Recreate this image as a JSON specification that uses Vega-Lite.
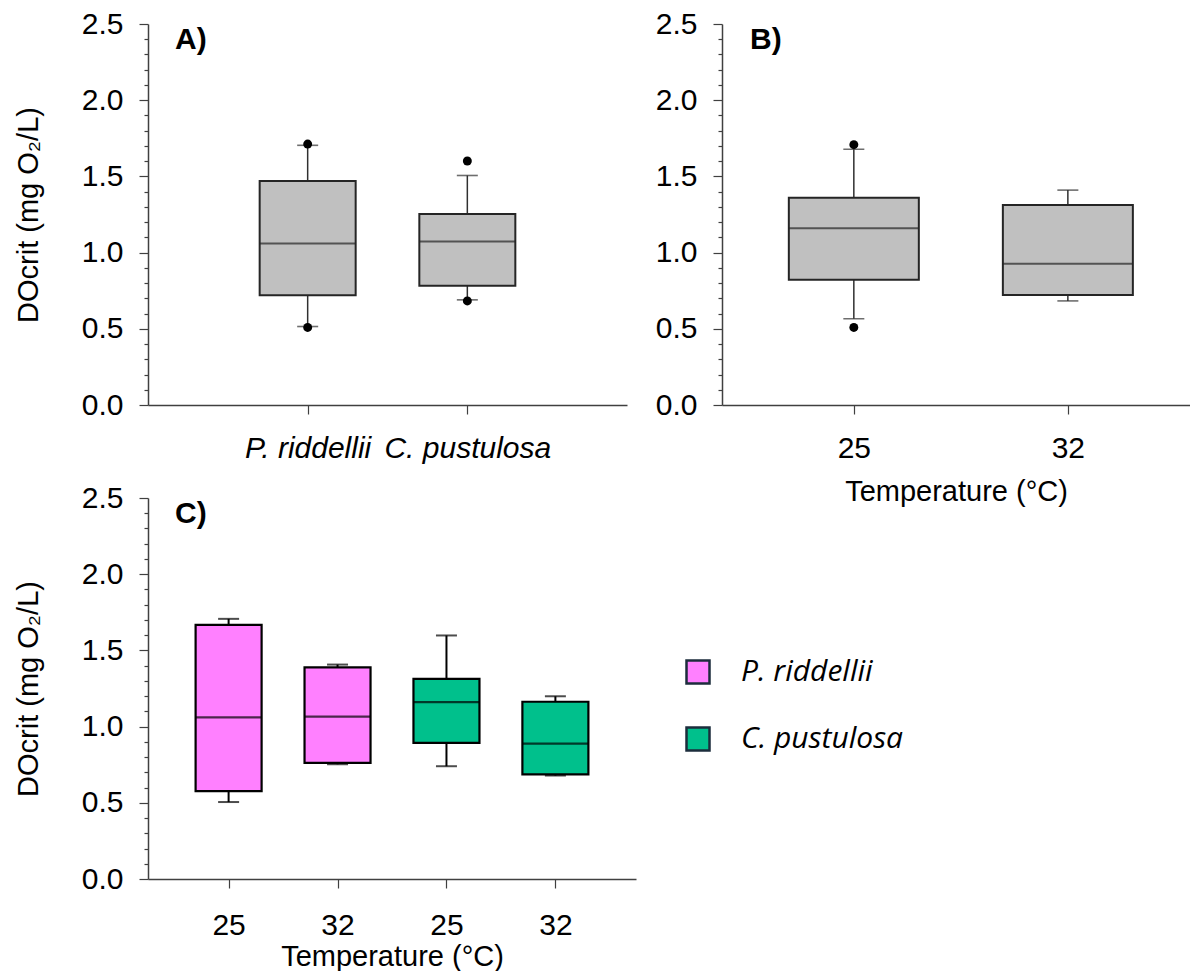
{
  "$schema": "https://vega.github.io/schema/vega-lite/v6.json",
  "background": "white",
  "padding": {"left": 14, "top": 9, "right": 0, "bottom": 0},
  "bounds": "flush",
  "columns": 2,
  "spacing": {"row": 93, "column": 86},
  "config": {
    "view": {"stroke": null},
    "axis": {
      "labelFont": "Liberation Sans", "titleFont": "Liberation Sans",
      "labelFontSize": 30, "titleFontSize": 29, "labelColor": "black", "titleColor": "black",
      "titleFontWeight": "normal", "domainColor": "#404040", "tickColor": "#404040",
      "domainWidth": 1.5, "tickWidth": 1.2, "grid": false
    },
    "title": {"font": "Liberation Sans", "fontSize": 30, "fontWeight": "bold", "color": "black", "anchor": "start", "frame": "group", "baseline": "alphabetic"}
  },
  "datasets": {
    "boxes": [
      {"panel": "A", "group": "P. riddellii", "species": "P. riddellii", "temp": null, "lo": 0.515, "q1": 0.72, "med": 1.06, "q3": 1.47, "hi": 1.704},
      {"panel": "A", "group": "C. pustulosa", "species": "C. pustulosa", "temp": null, "lo": 0.69, "q1": 0.783, "med": 1.073, "q3": 1.253, "hi": 1.506},
      {"panel": "B", "group": "25", "species": "all", "temp": 25, "lo": 0.566, "q1": 0.822, "med": 1.16, "q3": 1.36, "hi": 1.678},
      {"panel": "B", "group": "32", "species": "all", "temp": 32, "lo": 0.683, "q1": 0.722, "med": 0.927, "q3": 1.312, "hi": 1.41},
      {"panel": "C", "group": "P. riddellii|25", "species": "P. riddellii", "temp": 25, "lo": 0.505, "q1": 0.577, "med": 1.061, "q3": 1.668, "hi": 1.707},
      {"panel": "C", "group": "P. riddellii|32", "species": "P. riddellii", "temp": 32, "lo": 0.753, "q1": 0.762, "med": 1.065, "q3": 1.389, "hi": 1.407},
      {"panel": "C", "group": "C. pustulosa|25", "species": "C. pustulosa", "temp": 25, "lo": 0.74, "q1": 0.893, "med": 1.161, "q3": 1.313, "hi": 1.598},
      {"panel": "C", "group": "C. pustulosa|32", "species": "C. pustulosa", "temp": 32, "lo": 0.679, "q1": 0.686, "med": 0.888, "q3": 1.163, "hi": 1.199}
    ],
    "outliers": [
      {"panel": "A", "group": "P. riddellii", "temp": null, "value": 1.712},
      {"panel": "A", "group": "P. riddellii", "temp": null, "value": 0.509},
      {"panel": "A", "group": "C. pustulosa", "temp": null, "value": 1.601},
      {"panel": "A", "group": "C. pustulosa", "temp": null, "value": 0.683},
      {"panel": "B", "group": "25", "temp": 25, "value": 1.708},
      {"panel": "B", "group": "25", "temp": 25, "value": 0.509}
    ]
  },
  "concat": [
    {
      "width": 479, "height": 381,
      "title": {"text": "A)", "offset": -46, "dx": 27},
      "resolve": {"axis": {"y": "independent"}},
      "encoding": {
        "x": {"field": "group", "type": "nominal", "title": null,
          "scale": {"type": "point", "domain": ["P. riddellii", "C. pustulosa"], "padding": 1},
          "axis": {"labelAngle": 0, "labelFontStyle": "italic", "tickSize": 9, "labelPadding": 19}}
      },
      "layer": [
        {
          "data": {"name": "boxes"}, "transform": [{"filter": "datum.panel === 'A'"}],
          "mark": {"type": "rule", "color": "#303030", "strokeWidth": 1.5},
          "encoding": {
            "y": {"field": "lo", "type": "quantitative", "title": "DOcrit (mg O₂/L)",
              "scale": {"domain": [0, 2.5], "nice": false, "zero": true},
              "axis": {"orient": "left", "values": [0, 0.5, 1, 1.5, 2, 2.5], "format": ".1f", "labelOverlap": false, "tickSize": 9, "labelPadding": 16, "titlePadding": 38}},
            "y2": {"field": "q1"}
          }
        },
        {
          "data": {"name": "boxes"}, "transform": [{"filter": "datum.panel === 'A'"}],
          "mark": {"type": "rule", "color": "#303030", "strokeWidth": 1.5},
          "encoding": {
            "y": {"field": "q3", "type": "quantitative", "title": null,
              "axis": {"orient": "left", "values": [0.1,0.2,0.3,0.4,0.6,0.7,0.8,0.9,1.1,1.2,1.3,1.4,1.6,1.7,1.8,1.9,2.1,2.2,2.3,2.4], "labels": false, "domain": false, "tickSize": 4, "title": null}},
            "y2": {"field": "hi"}
          }
        },
        {
          "data": {"name": "boxes"}, "transform": [{"filter": "datum.panel === 'A'"}],
          "mark": {"type": "bar", "width": 96, "fill": "#c0c0c0", "stroke": "#252525", "strokeWidth": 2},
          "encoding": {"y": {"field": "q1", "type": "quantitative", "axis": null}, "y2": {"field": "q3"}}
        },
        {
          "data": {"name": "boxes"}, "transform": [{"filter": "datum.panel === 'A'"}],
          "mark": {"type": "tick", "orient": "horizontal", "size": 96, "thickness": 2, "color": "#252525"},
          "encoding": {"y": {"field": "med", "type": "quantitative", "axis": null}}
        },
        {
          "data": {"name": "boxes"}, "transform": [{"filter": "datum.panel === 'A'"}, {"fold": ["lo", "hi"], "as": ["end", "cap"]}],
          "mark": {"type": "tick", "orient": "horizontal", "size": 21, "thickness": 1.6, "color": "#303030"},
          "encoding": {"y": {"field": "cap", "type": "quantitative", "axis": null}}
        },
        {
          "data": {"name": "outliers"}, "transform": [{"filter": "datum.panel === 'A'"}],
          "mark": {"type": "circle", "size": 80, "color": "black", "opacity": 1},
          "encoding": {"y": {"field": "value", "type": "quantitative", "axis": null}}
        }
      ]
    },
    {
      "width": 468, "height": 381,
      "title": {"text": "B)", "offset": -46, "dx": 28},
      "resolve": {"axis": {"y": "independent"}},
      "encoding": {
        "x": {"field": "temp", "type": "quantitative", "title": "Temperature (°C)",
          "scale": {"domain": [20.852, 35.831], "nice": false, "zero": false},
          "axis": {"values": [25, 32], "format": "d", "tickSize": 9, "labelPadding": 19, "titlePadding": 14}}
      },
      "layer": [
        {
          "data": {"name": "boxes"}, "transform": [{"filter": "datum.panel === 'B'"}],
          "mark": {"type": "rule", "color": "#303030", "strokeWidth": 1.5},
          "encoding": {
            "y": {"field": "lo", "type": "quantitative", "title": null,
              "scale": {"domain": [0, 2.5], "nice": false, "zero": true},
              "axis": {"orient": "left", "values": [0, 0.5, 1, 1.5, 2, 2.5], "format": ".1f", "labelOverlap": false, "tickSize": 9, "labelPadding": 16}},
            "y2": {"field": "q1"}
          }
        },
        {
          "data": {"name": "boxes"}, "transform": [{"filter": "datum.panel === 'B'"}],
          "mark": {"type": "rule", "color": "#303030", "strokeWidth": 1.5},
          "encoding": {
            "y": {"field": "q3", "type": "quantitative", "title": null,
              "axis": {"orient": "left", "values": [0.1,0.2,0.3,0.4,0.6,0.7,0.8,0.9,1.1,1.2,1.3,1.4,1.6,1.7,1.8,1.9,2.1,2.2,2.3,2.4], "labels": false, "domain": false, "tickSize": 4, "title": null}},
            "y2": {"field": "hi"}
          }
        },
        {
          "data": {"name": "boxes"}, "transform": [{"filter": "datum.panel === 'B'"}],
          "mark": {"type": "bar", "width": 130, "fill": "#c0c0c0", "stroke": "#252525", "strokeWidth": 2},
          "encoding": {"y": {"field": "q1", "type": "quantitative", "axis": null}, "y2": {"field": "q3"}}
        },
        {
          "data": {"name": "boxes"}, "transform": [{"filter": "datum.panel === 'B'"}],
          "mark": {"type": "tick", "orient": "horizontal", "size": 130, "thickness": 2, "color": "#252525"},
          "encoding": {"y": {"field": "med", "type": "quantitative", "axis": null}}
        },
        {
          "data": {"name": "boxes"}, "transform": [{"filter": "datum.panel === 'B'"}, {"fold": ["lo", "hi"], "as": ["end", "cap"]}],
          "mark": {"type": "tick", "orient": "horizontal", "size": 21, "thickness": 1.6, "color": "#303030"},
          "encoding": {"y": {"field": "cap", "type": "quantitative", "axis": null}}
        },
        {
          "data": {"name": "outliers"}, "transform": [{"filter": "datum.panel === 'B'"}],
          "mark": {"type": "circle", "size": 80, "color": "black", "opacity": 1},
          "encoding": {"y": {"field": "value", "type": "quantitative", "axis": null}}
        }
      ]
    },
    {
      "width": 488, "height": 381,
      "title": {"text": "C)", "offset": -46, "dx": 27},
      "resolve": {"axis": {"y": "independent"}},
      "encoding": {
        "x": {"field": "group", "type": "nominal", "title": "Temperature (°C)",
          "scale": {"type": "point", "domain": ["P. riddellii|25", "P. riddellii|32", "C. pustulosa|25", "C. pustulosa|32"], "padding": 0.74},
          "axis": {"labelAngle": 0, "labelExpr": "split(datum.value, '|')[1]", "tickSize": 9, "labelPadding": 22, "titlePadding": 2}}
      },
      "layer": [
        {
          "data": {"name": "boxes"}, "transform": [{"filter": "datum.panel === 'C'"}],
          "mark": {"type": "rule", "color": "black", "strokeWidth": 2},
          "encoding": {
            "y": {"field": "lo", "type": "quantitative", "title": "DOcrit (mg O₂/L)",
              "scale": {"domain": [0, 2.5], "nice": false, "zero": true},
              "axis": {"orient": "left", "values": [0, 0.5, 1, 1.5, 2, 2.5], "format": ".1f", "labelOverlap": false, "tickSize": 9, "labelPadding": 16, "titlePadding": 38}},
            "y2": {"field": "q1"}
          }
        },
        {
          "data": {"name": "boxes"}, "transform": [{"filter": "datum.panel === 'C'"}],
          "mark": {"type": "rule", "color": "black", "strokeWidth": 2},
          "encoding": {
            "y": {"field": "q3", "type": "quantitative", "title": null,
              "axis": {"orient": "left", "values": [0.1,0.2,0.3,0.4,0.6,0.7,0.8,0.9,1.1,1.2,1.3,1.4,1.6,1.7,1.8,1.9,2.1,2.2,2.3,2.4], "labels": false, "domain": false, "tickSize": 4, "title": null}},
            "y2": {"field": "hi"}
          }
        },
        {
          "data": {"name": "boxes"}, "transform": [{"filter": "datum.panel === 'C'"}],
          "mark": {"type": "bar", "width": 66, "stroke": "black", "strokeWidth": 2.2, "opacity": 1},
          "encoding": {
            "y": {"field": "q1", "type": "quantitative", "axis": null}, "y2": {"field": "q3"},
            "color": {"field": "species", "type": "nominal",
              "scale": {"domain": ["P. riddellii", "C. pustulosa"], "range": ["#ff80ff", "#00c08c"]},
              "legend": {"orient": "none", "legendX": 535, "legendY": 633, "title": null, "padding": 0,
                "symbolType": "square", "symbolSize": 529, "symbolStrokeColor": "#1c2d3c", "symbolStrokeWidth": 2.5, "symbolOpacity": 1,
                "labelFont": "Open Sans", "labelFontStyle": "italic", "labelFontSize": 30, "labelColor": "black",
                "labelOffset": 28, "rowPadding": 33, "labelLimit": 400}}
          }
        },
        {
          "data": {"name": "boxes"}, "transform": [{"filter": "datum.panel === 'C'"}],
          "mark": {"type": "tick", "orient": "horizontal", "size": 66, "thickness": 2.2, "color": "black"},
          "encoding": {"y": {"field": "med", "type": "quantitative", "axis": null}}
        },
        {
          "data": {"name": "boxes"}, "transform": [{"filter": "datum.panel === 'C'"}, {"fold": ["lo", "hi"], "as": ["end", "cap"]}],
          "mark": {"type": "tick", "orient": "horizontal", "size": 21, "thickness": 2, "color": "black"},
          "encoding": {"y": {"field": "cap", "type": "quantitative", "axis": null}}
        }
      ]
    }
  ]
}
